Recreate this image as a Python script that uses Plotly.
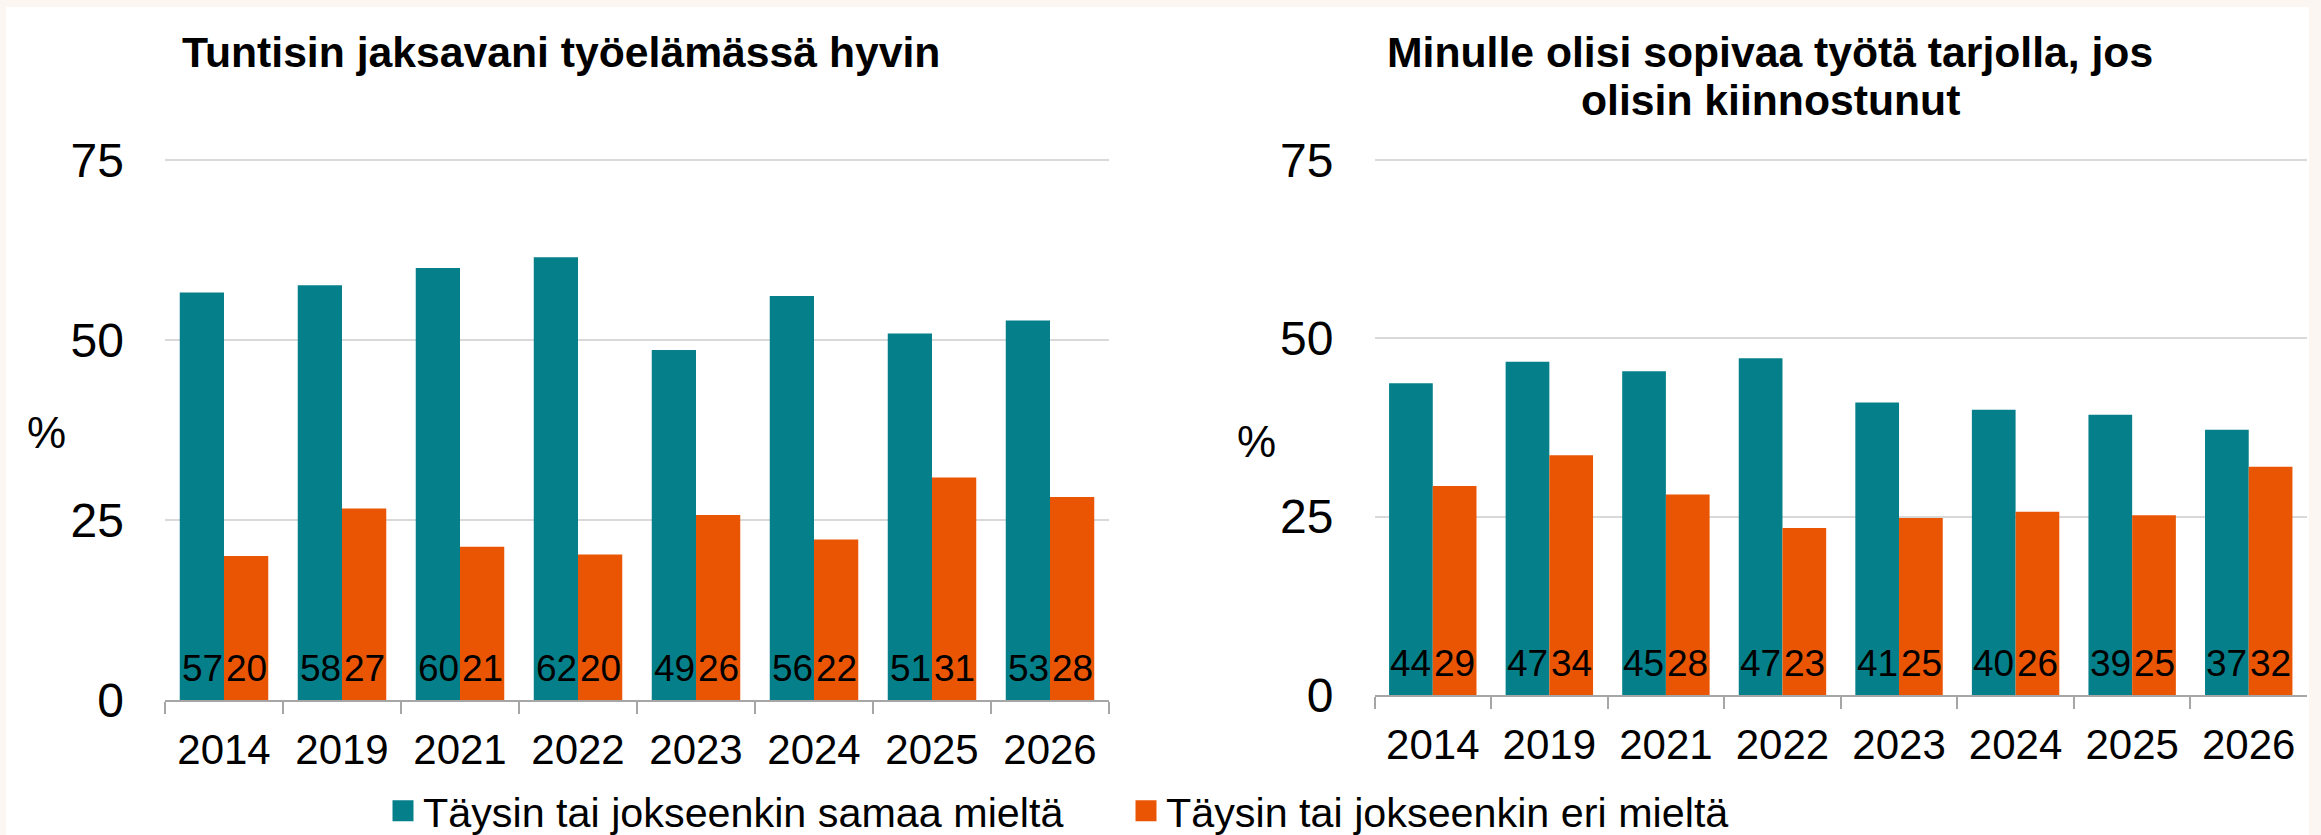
import plotly.graph_objects as go

# ---- data ----
years = ["2014", "2019", "2021", "2022", "2023", "2024", "2025", "2026"]

left_title = "Tuntisin jaksavani työelämässä hyvin"
left_agree = [56.6, 57.6, 60.0, 61.5, 48.6, 56.1, 50.9, 52.7]
left_disagree = [20.0, 26.6, 21.3, 20.2, 25.7, 22.3, 30.9, 28.2]
left_agree_labels = [57, 58, 60, 62, 49, 56, 51, 53]
left_disagree_labels = [20, 27, 21, 20, 26, 22, 31, 28]

right_title_lines = ["Minulle olisi sopivaa työtä tarjolla, jos", "olisin kiinnostunut"]
right_agree = [43.7, 46.7, 45.4, 47.2, 41.0, 40.0, 39.3, 37.2]
right_disagree = [29.3, 33.6, 28.1, 23.4, 24.8, 25.7, 25.2, 32.0]
right_agree_labels = [44, 47, 45, 47, 41, 40, 39, 37]
right_disagree_labels = [29, 34, 28, 23, 25, 26, 25, 32]

series_names = ["Täysin tai jokseenkin samaa mieltä", "Täysin tai jokseenkin eri mieltä"]
y_ticks = [0, 25, 50, 75]
y_unit = "%"

# ---- style ----
W, H = 2321, 835
TEAL = "#05808A"
ORANGE = "#EA5504"
FONT = "Arial, Liberation Sans, sans-serif"
GRID = "#D9D9D9"
AXIS = "#A6A6A6"
Y_TOP = 75.5  # slight headroom so the 75 gridline is drawn


def px_x(v):
    return v / W


def px_y(v):
    return 1 - v / H


fig = go.Figure()

panels = [
    dict(xa="x", ya="y", agree=left_agree, dis=left_disagree,
         al=left_agree_labels, dl=left_disagree_labels),
    dict(xa="x2", ya="y2", agree=right_agree, dis=right_disagree,
         al=right_agree_labels, dl=right_disagree_labels),
]

for p in panels:
    fig.add_trace(go.Bar(x=years, y=p["agree"], name=series_names[0], marker_color=TEAL,
                         marker_line_width=0, xaxis=p["xa"], yaxis=p["ya"], showlegend=False,
                         hoverinfo="x+y"))
    fig.add_trace(go.Bar(x=years, y=p["dis"], name=series_names[1], marker_color=ORANGE,
                         marker_line_width=0, xaxis=p["xa"], yaxis=p["ya"], showlegend=False,
                         hoverinfo="x+y"))

# legend entries (square swatches) on a hidden helper axis
for name, col in zip(series_names, [TEAL, ORANGE]):
    fig.add_trace(go.Scatter(x=[0], y=[None], mode="markers", name=name,
                             marker=dict(symbol="square", size=16, color=col,
                                         line=dict(color=col, width=5)),
                             xaxis="x3", yaxis="y3", showlegend=True, hoverinfo="skip"))

annotations = []
# bar value labels near the base (x given as category index)
for p in panels:
    for vals, shift in ((p["al"], -22), (p["dl"], 22)):
        for j, lab in enumerate(vals):
            annotations.append(dict(x=j, y=0, xref=p["xa"], yref=p["ya"], text=str(lab),
                                    showarrow=False, xshift=shift, yshift=32,
                                    yanchor="middle", xanchor="center",
                                    font=dict(size=37, color="black", family=FONT)))

# titles
annotations.append(dict(x=px_x(561), y=px_y(52), xref="paper", yref="paper",
                        text="<b>" + left_title + "</b>", showarrow=False,
                        xanchor="center", yanchor="middle",
                        font=dict(size=42.7, color="black", family=FONT)))
for i, line in enumerate(right_title_lines):
    annotations.append(dict(x=px_x(1770), y=px_y(52 + 48 * i), xref="paper", yref="paper",
                            text="<b>" + line + "</b>", showarrow=False,
                            xanchor="center", yanchor="middle",
                            font=dict(size=42.7, color="black", family=FONT)))
# y unit labels
for xx, yy in ((46, 432), (1256, 441)):
    annotations.append(dict(x=px_x(xx), y=px_y(yy), xref="paper", yref="paper",
                            text=y_unit, showarrow=False, xanchor="center", yanchor="middle",
                            font=dict(size=44, color="black", family=FONT)))

xcommon = dict(type="category", range=[-0.5, len(years) - 0.5],
               showline=True, linecolor=AXIS, linewidth=1.5,
               ticks="outside", tickson="boundaries", ticklen=12, tickcolor=AXIS, tickwidth=1.5,
               tickfont=dict(size=42, color="black", family=FONT), showgrid=False,
               ticklabelstandoff=12, fixedrange=True, automargin=False)
ycommon = dict(range=[0, Y_TOP], tickvals=y_ticks, showgrid=True, gridcolor=GRID, gridwidth=1.5,
               zeroline=False, showline=False, ticks="",
               tickfont=dict(size=48, color="black", family=FONT), ticklabelstandoff=40,
               fixedrange=True, automargin=False)
hidden = dict(visible=False, showgrid=False, zeroline=False, fixedrange=True)

# pixel positions: left 0→700, 75→160 ; right 0→695, 75→160
l_top = 700 - (700 - 160) / 75 * Y_TOP
r_top = 695 - (695 - 160) / 75 * Y_TOP

fig.update_layout(
    width=W, height=H,
    margin=dict(l=0, r=0, t=0, b=0, autoexpand=False),
    paper_bgcolor="#FBF6F2",
    plot_bgcolor="rgba(0,0,0,0)",
    barmode="group", bargap=0.25, bargroupgap=0,
    font=dict(family=FONT, color="black"),
    xaxis=dict(domain=[px_x(165), px_x(1109)], anchor="y", **xcommon),
    yaxis=dict(domain=[px_y(700), px_y(l_top)], anchor="x", **ycommon),
    xaxis2=dict(domain=[px_x(1374.5), px_x(2307)], anchor="y2", **xcommon),
    yaxis2=dict(domain=[px_y(695), px_y(r_top)], anchor="x2", **ycommon),
    xaxis3=dict(domain=[0, 0.01], anchor="y3", **hidden),
    yaxis3=dict(domain=[0, 0.01], anchor="x3", **hidden),
    shapes=[dict(type="rect", xref="paper", yref="paper", x0=px_x(6), x1=px_x(2309),
                 y0=0, y1=px_y(7), fillcolor="white", line_width=0, layer="below")],
    annotations=annotations,
    showlegend=True,
    legend=dict(orientation="h", x=px_x(383), xanchor="left", y=px_y(811), yanchor="middle",
                font=dict(size=41.3, color="black", family=FONT), entrywidth=698,
                bgcolor="rgba(0,0,0,0)", itemclick=False, itemdoubleclick=False),
)

fig.write_html(
    "out.html",
    config={"displayModeBar": False},
    post_script="document.documentElement.style.margin='0';document.body.style.margin='0';"
                "document.body.style.overflow='hidden';",
)
